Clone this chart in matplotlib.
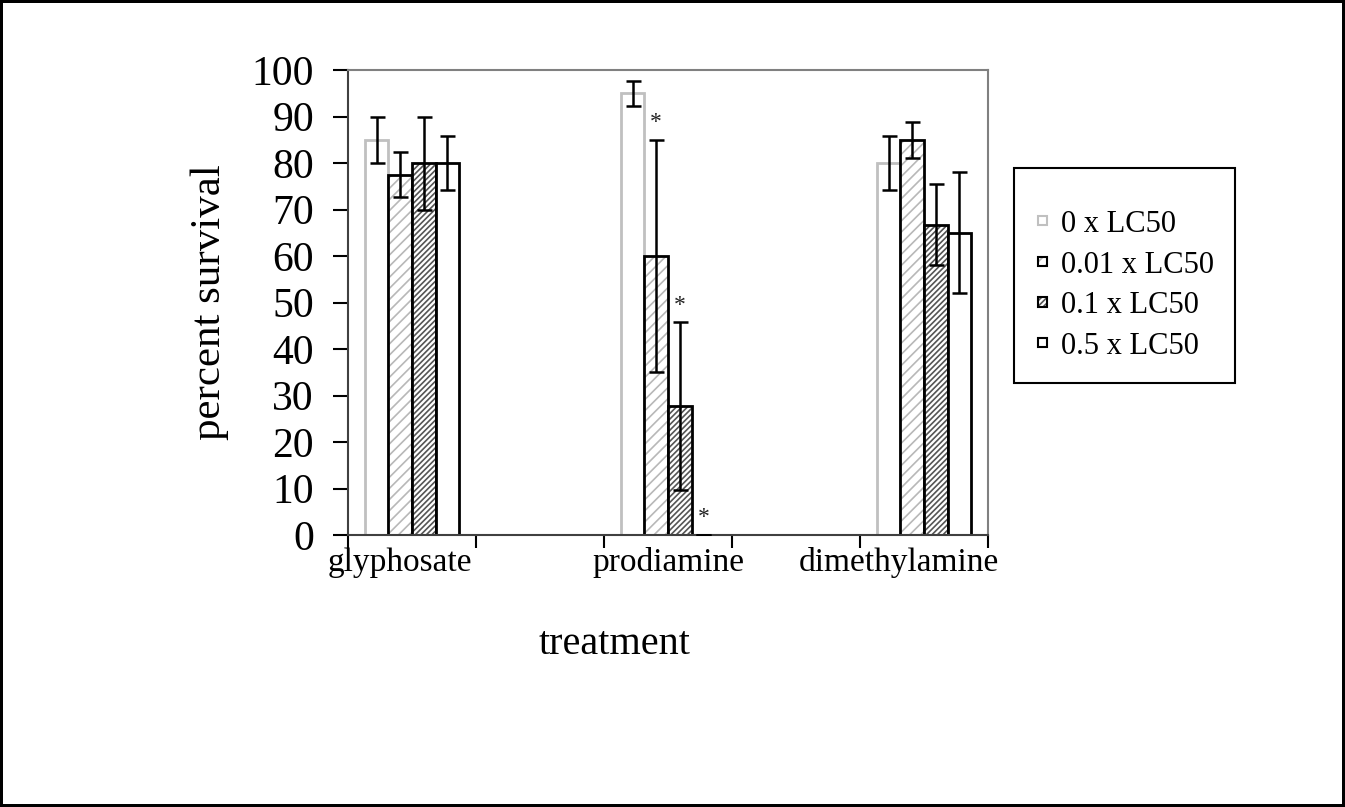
import matplotlib.pyplot as plt
import numpy as np
from matplotlib.patches import Patch, Rectangle
from matplotlib.legend_handler import HandlerTuple
from matplotlib.transforms import offset_copy, blended_transform_factory

plt.rcParams['font.family'] = ['Liberation Serif', 'DejaVu Serif']
plt.rcParams['hatch.linewidth'] = 1.2

treatments = ['glyphosate', 'prodiamine', 'dimethylamine']
doses = ['0 x LC50', '0.01 x LC50', '0.1 x LC50', '0.5 x LC50']

# percent survival per dose, in treatment order
surv_0 = [85, 95, 80]
surv_001 = [77.5, 60, 85]
surv_01 = [80, 27.7, 66.7]
surv_05 = [80, 0, 65]

# error bars
err_0 = [5, 2.7, 5.8]
err_001 = [4.8, 25, 3.9]
err_01 = [10, 18, 8.7]
err_05 = [5.8, 0, 13]

# asterisk = different from control
sig_0 = [False, False, False]
sig_001 = [False, True, False]
sig_01 = [False, True, False]
sig_05 = [False, True, False]

values = [surv_0, surv_001, surv_01, surv_05]
errors = [err_0, err_001, err_01, err_05]
sigs = [sig_0, sig_001, sig_01, sig_05]

# edge colour, hatch, hatch colour
styles = [('#c0c0c0', None, None),
          ('black', '///', '#b8b8b8'),
          ('black', '//////', '#555555'),
          ('black', None, None)]

fig = plt.figure(figsize=(13.45, 8.07), dpi=100, linewidth=3, edgecolor='black')
ax = fig.add_axes([348/1345, 1-535/807, 640/1345, 465/807])

pos = np.arange(len(treatments)) * 2
w = 0.184

for i, (vals, errs, sig) in enumerate(zip(values, errors, sigs)):
    edge, hatch, hcol = styles[i]
    x = pos + (i - 1.5) * w
    if hatch:
        ax.bar(x, vals, w, color='white', edgecolor=hcol, hatch=hatch, linewidth=0, zorder=2)
        bars = ax.bar(x, vals, w, fill=False, edgecolor=edge, linewidth=2, zorder=2)
    else:
        bars = ax.bar(x, vals, w, color='white', edgecolor=edge, linewidth=2, zorder=2)
    for b, v in zip(bars, vals):
        if v == 0:
            b.set_linewidth(0)
    ax.errorbar(x, vals, yerr=errs, fmt='none', ecolor='black', elinewidth=1.8,
                capsize=5.4, capthick=1.8, zorder=3)
    for xx, v, e, s in zip(x, vals, errs, sig):
        if s:
            ax.text(xx, v + e + 1.5, '*', ha='center', va='bottom', fontsize=17, color='#222222')

ax.set_xlim(-0.5, pos[-1] + 0.5)
ax.set_ylim(0, 100)
ax.set_yticks(np.arange(0, 101, 10))
ax.set_xticks(np.arange(-0.5, pos[-1] + 1, 1))
ax.set_xticklabels([])
ax.tick_params(axis='y', labelsize=30, length=10.5, width=1.5, pad=14)
ax.tick_params(axis='x', length=9, width=1.5)

for side in ['left', 'bottom']:
    ax.spines[side].set_color('#404040')
    ax.spines[side].set_linewidth(1.5)
for side in ['top', 'right']:
    ax.spines[side].set_color('#808080')
    ax.spines[side].set_linewidth(1.5)

label_dx = [-9, 0, -18]
base = blended_transform_factory(ax.transData, ax.transAxes)
for p, name, dx in zip(pos, treatments, label_dx):
    ax.text(p, 0, name, transform=offset_copy(base, fig=fig, x=dx, y=-9, units='points'),
            ha='center', va='top', fontsize=24)

ax.set_ylabel('percent survival', fontsize=31, labelpad=16)
fig.text(615/1345, 1-645/807, 'treatment', ha='center', va='center', fontsize=29)

handles = []
for edge, hatch, hcol in styles:
    if hatch:
        handles.append((Patch(facecolor='white', edgecolor=hcol, hatch=hatch, linewidth=0),
                        Patch(fill=False, edgecolor=edge, linewidth=1.5)))
    else:
        handles.append(Patch(facecolor='white', edgecolor=edge, linewidth=1.5))

fig.legend(handles, doses, loc='upper left', bbox_to_anchor=(1038/1345, 1-210/807),
           frameon=False, fontsize=22, handlelength=0.3, handleheight=0.09,
           handletextpad=0.45, labelspacing=0.38, borderpad=0, borderaxespad=0,
           handler_map={tuple: HandlerTuple(ndivide=1)})
fig.add_artist(Rectangle((1014/1345, 1-383/807), 221/1345, 215/807, transform=fig.transFigure,
                         fill=False, edgecolor='black', linewidth=1.5))

fig.savefig('out.png', dpi=100)
